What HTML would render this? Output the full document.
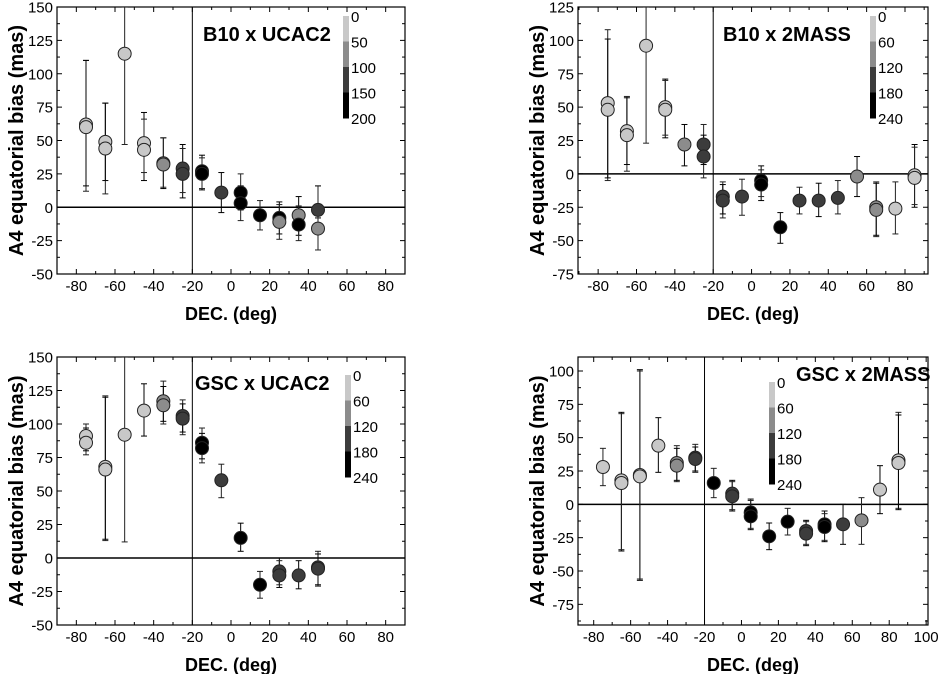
<!DOCTYPE html>
<html><head><meta charset="utf-8">
<style>
html,body{margin:0;padding:0;background:#fff;}
svg{display:block;font-family:"Liberation Sans",Arial,sans-serif;}
</style></head>
<body>
<svg id="fig" width="939" height="674" viewBox="0 0 939 674" xmlns="http://www.w3.org/2000/svg"></svg>
<script>
// ---- Panel 1: B10 x UCAC2 ----
const p1Dec = [-75,-75,-65,-65,-55,-45,-45,-35,-35,-25,-25,-15,-15,-5,5,5,15,25,25,35,35,45,45];
const p1Val = [62,60,49,44,115,48,43,33,32,29,25,27,25,11,11,3,-6,-8,-11,-6,-13,-2,-16];
const p1Lo  = [12,16,10,20,47,20,26,14,15,7,11,13,14,-4,-10,-2,-17,-20,-24,-21,-25,-8,-32];
const p1Hi  = [110,110,78,78,150,71,66,52,52,47,44,39,37,26,25,16,5,4,2,8,1,16,16];
const p1Shade=[0,0,0,0,0,0,0,1,1,2,2,3,3,2,3,3,3,3,1,1,3,2,1];
// ---- Panel 2: B10 x 2MASS ----
const p2Dec = [-75,-75,-65,-65,-55,-45,-45,-35,-25,-25,-15,-15,-5,5,5,15,25,35,45,55,65,65,75,85,85];
const p2Val = [53,48,32,29,96,50,48,22,22,13,-17,-20,-17,-5,-8,-40,-20,-20,-18,-2,-25,-27,-26,-1,-3];
const p2Lo  = [-5,-3,2,7,23,27,29,6,-3,7,-33,-30,-31,-20,-17,-52,-30,-32,-30,-17,-47,-46,-45,-25,-23];
const p2Hi  = [108,101,58,57,125,71,70,37,37,29,-6,-8,-4,6,3,-29,-10,-7,-5,13,-6,-7,-6,22,20];
const p2Shade=[0,0,0,0,0,0,0,1,2,2,2,2,2,3,3,3,2,2,2,1,1,1,0,0,0];
// ---- Panel 3: GSC x UCAC2 ----
const p3Dec = [-75,-75,-65,-65,-55,-45,-35,-35,-25,-25,-15,-15,-5,5,15,25,25,35,45,45];
const p3Val = [91,86,68,66,92,110,117,114,106,104,86,82,58,15,-20,-10,-13,-13,-7,-8];
const p3Lo  = [77,80,13,14,12,91,100,102,92,94,71,74,45,5,-30,-22,-20,-23,-21,-20];
const p3Hi  = [100,97,121,120,150,130,132,128,118,115,97,93,70,26,-10,0,-2,-2,5,3];
const p3Shade=[0,0,0,0,0,0,1,1,2,2,3,3,2,3,3,2,2,2,2,2];
// ---- Panel 4: GSC x 2MASS ----
const p4Dec = [-75,-65,-65,-55,-55,-45,-35,-35,-25,-25,-15,-5,-5,5,5,15,25,35,35,45,45,55,65,75,85,85];
const p4Val = [28,18,16,22,21,44,31,29,35,34,16,8,6,-6,-9,-24,-13,-20,-22,-15,-17,-15,-12,11,33,31];
const p4Lo  = [14,-35,-34,-57,-56,24,17,18,24,25,5,-5,-4,-19,-18,-34,-23,-31,-30,-28,-27,-30,-30,-7,-3,-4];
const p4Hi  = [42,69,68,101,100,65,44,42,45,43,27,18,17,3,4,-14,-3,-12,-13,-5,-7,0,5,29,69,67];
const p4Shade=[0,0,0,0,0,0,1,1,2,2,3,2,2,3,3,3,3,2,2,3,3,2,1,0,0,0];
// tick labels
const p1YTicks=[-50,-25,0,25,50,75,100,125,150];
const p2YTicks=[-75,-50,-25,0,25,50,75,100,125];
const p3YTicks=[-50,-25,0,25,50,75,100,125,150];
const p4YTicks=[-75,-50,-25,0,25,50,75,100];
const xTicksA=[-80,-60,-40,-20,0,20,40,60,80];
const xTicksB=[-80,-60,-40,-20,0,20,40,60,80,100];
const cbar1=["0","50","100","150","200"];
const cbar2=["0","60","120","180","240"];
const shadeColors=["#c8c8c8","#8c8c8c","#3c3c3c","#000000"];

const NS="http://www.w3.org/2000/svg";
const svg=document.getElementById('fig');
function mk(tag,attrs,parent){const e=document.createElementNS(NS,tag);for(const k in attrs)e.setAttribute(k,attrs[k]);(parent||svg).appendChild(e);return e;}

function panel(cfg){
  const g=mk('g',{});
  
  
  const {L,R,T,B,xmin,xmax,ymin,ymax}=cfg;
  const sx=v=>L+(v-xmin)/(xmax-xmin)*(R-L);
  const sy=v=>B-(v-ymin)/(ymax-ymin)*(B-T);
  const clip='c'+cfg.name;
  const cp=mk('clipPath',{id:clip},g);mk('rect',{x:L,y:T,width:R-L,height:B-T},cp);
  const tk=mk('g',{stroke:'#000','stroke-width':1},g);
  for(let v=Math.ceil(xmin/10)*10; v<=xmax; v+=10){
    const major=(v%20===0);const len=major?5:3;const x=sx(v);
    mk('line',{x1:x,y1:B,x2:x,y2:B-len},tk);mk('line',{x1:x,y1:T,x2:x,y2:T+len},tk);
  }
  const ystep=12.5;
  for(let v=Math.ceil(ymin/ystep)*ystep; v<=ymax; v+=ystep){
    const major=(Math.abs(v%25)<0.01);const len=major?5:3;const y=sy(v);
    mk('line',{x1:L,y1:y,x2:L+len,y2:y},tk);mk('line',{x1:R,y1:y,x2:R-len,y2:y},tk);
  }
  cfg.yTicks.forEach(v=>{
    const t=mk('text',{x:L-4,y:sy(v)+5.5,'text-anchor':'end','font-size':15},g);t.textContent=v;
    
    
  });
  cfg.xTicks.forEach(v=>{
    const t=mk('text',{x:sx(v),y:B+17,'text-anchor':'middle','font-size':15},g);t.textContent=v;
    
    
  });
  const fr=mk('rect',{x:L,y:T,width:R-L,height:B-T,fill:'none',stroke:'#000','stroke-width':1.2},g);
  
  
  const h=mk('line',{x1:L,y1:sy(0),x2:R,y2:sy(0),stroke:'#000','stroke-width':1.5},g);
  
  
  const v=mk('line',{x1:sx(-20),y1:T,x2:sx(-20),y2:B,stroke:'#000','stroke-width':1},g);
  
  
  const xt=mk('text',{x:(L+R)/2,y:B+46,'text-anchor':'middle','font-size':18,'font-weight':'bold'},g);xt.textContent='DEC. (deg)';
  
  
  const yc=(T+B)/2;const yx=L-34;
  const yt=mk('text',{x:yx,y:yc,'text-anchor':'middle','font-size':20,'font-weight':'bold',transform:`rotate(-90 ${yx} ${yc})`},g);yt.textContent='A4 equatorial bias (mas)';
  
  
  const tt=mk('text',{x:cfg.tx,y:cfg.ty,'font-size':20,'font-weight':'bold'},g);tt.textContent=cfg.title;
  
  
  const cb=mk('g',{},g);
  
  
  const seg=(cfg.cbB-cfg.cbT)/4;
  for(let i=0;i<4;i++) mk('rect',{x:cfg.cbX,y:cfg.cbT+i*seg,width:6,height:seg+0.5,fill:shadeColors[i]},cb);
  cfg.cbLabels.forEach((s,i)=>{const t=mk('text',{x:cfg.cbX+8,y:cfg.cbT+i*seg+6,'font-size':15},cb);t.textContent=s;});
  const dg=mk('g',{'clip-path':`url(#${clip})`},g);
  const d=cfg.data;
  for(let i=0;i<d.dec.length;i++){
    const x=sx(d.dec[i]);
    const eb=mk('g',{stroke:i%2?'#000':'#222','stroke-width':1},dg);
    
    
    mk('line',{x1:x,y1:sy(d.lo[i]),x2:x,y2:sy(d.hi[i])},eb);
    mk('line',{x1:x-3,y1:sy(d.lo[i]),x2:x+3,y2:sy(d.lo[i])},eb);
    mk('line',{x1:x-3,y1:sy(d.hi[i]),x2:x+3,y2:sy(d.hi[i])},eb);
  }
  for(let i=0;i<d.dec.length;i++){
    const c=mk('circle',{cx:sx(d.dec[i]),cy:sy(d.val[i]),r:6.5,fill:shadeColors[d.shade[i]],stroke:'#222','stroke-width':1},dg);
    
    
  }
}
panel({name:'panel-b10-ucac2',L:57,R:405,T:7,B:274,xmin:-90,xmax:90,ymin:-50,ymax:150,yTicks:p1YTicks,xTicks:xTicksA,
  title:'B10 x UCAC2',tx:203,ty:41,cbX:343,cbT:16,cbB:118,cbLabels:cbar1,
  data:{dec:p1Dec,val:p1Val,lo:p1Lo,hi:p1Hi,shade:p1Shade}});
panel({name:'panel-b10-2mass',L:578,R:928,T:7,B:274,xmin:-90.5,xmax:92,ymin:-75,ymax:125,yTicks:p2YTicks,xTicks:xTicksA,
  title:'B10 x 2MASS',tx:723,ty:41,cbX:870,cbT:16,cbB:118,cbLabels:cbar2,
  data:{dec:p2Dec,val:p2Val,lo:p2Lo,hi:p2Hi,shade:p2Shade}});
panel({name:'panel-gsc-ucac2',L:57,R:405,T:357,B:625,xmin:-90,xmax:90,ymin:-50,ymax:150,yTicks:p3YTicks,xTicks:xTicksA,
  title:'GSC x UCAC2',tx:195,ty:390,cbX:345,cbT:375,cbB:477,cbLabels:cbar2,
  data:{dec:p3Dec,val:p3Val,lo:p3Lo,hi:p3Hi,shade:p3Shade}});
panel({name:'panel-gsc-2mass',L:578,R:928,T:357,B:625,xmin:-88.5,xmax:101,ymin:-90.5,ymax:110.5,yTicks:p4YTicks,xTicks:xTicksB,
  title:'GSC x 2MASS',tx:796,ty:381,cbX:769,cbT:382,cbB:484,cbLabels:cbar2,
  data:{dec:p4Dec,val:p4Val,lo:p4Lo,hi:p4Hi,shade:p4Shade}});
</script>
</body></html>
